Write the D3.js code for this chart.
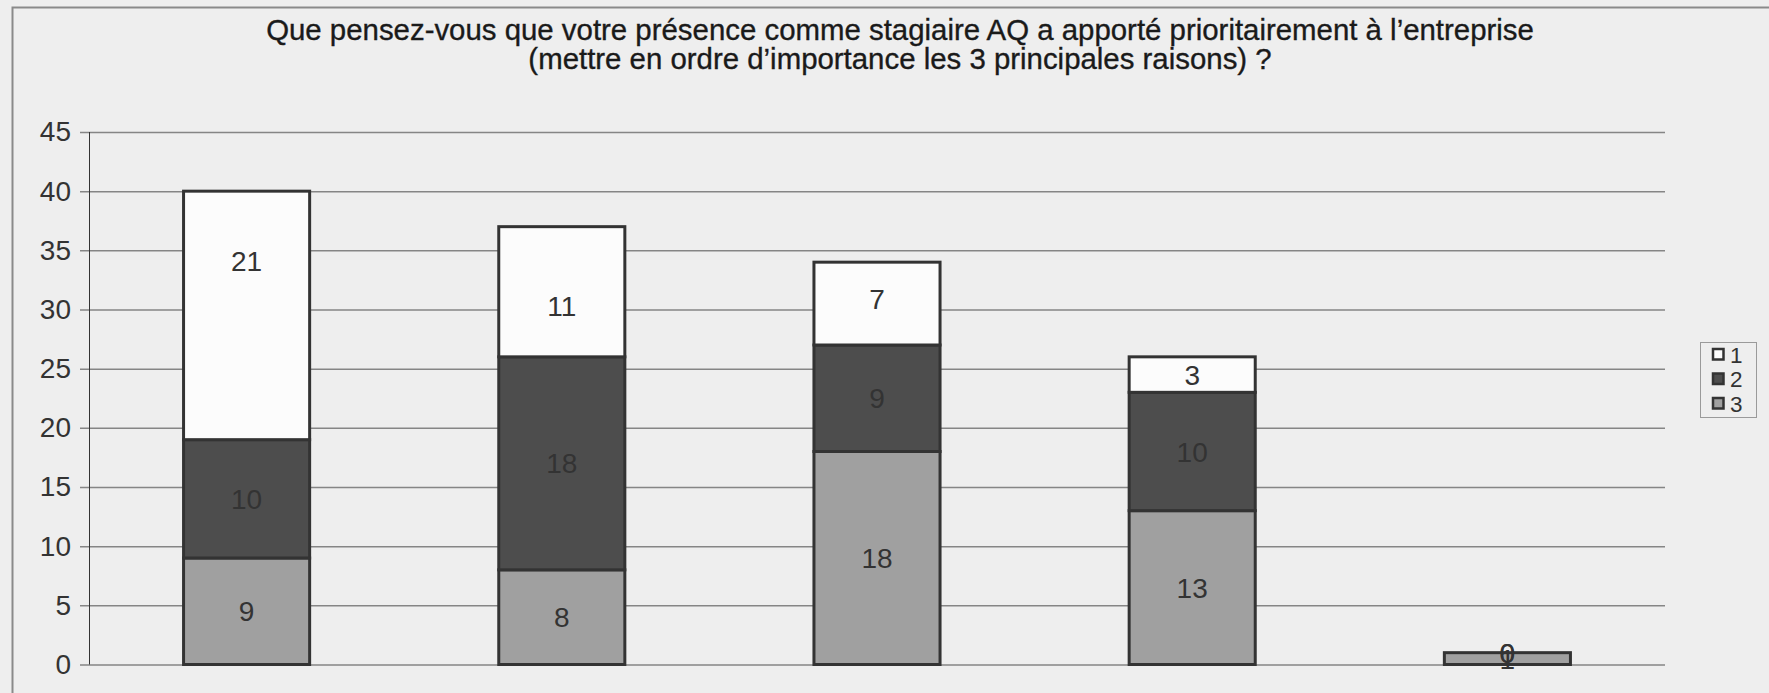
<!DOCTYPE html>
<html>
<head>
<meta charset="utf-8">
<script src="https://cdn.jsdelivr.net/npm/d3@7"></script>
<style>
  html, body { margin: 0; padding: 0; background: #eeeeee; }
  svg { display: block; font-family: "Liberation Sans", Arial, sans-serif; }
</style>
</head>
<body>
<svg width="1769" height="693"></svg>
<script>
// chart data
var categories = ["c1", "c2", "c3", "c4", "c5"];
var seriesNames = ["1", "2", "3"];
var serie1 = [21, 11, 7, 3, 0];
var serie2 = [10, 18, 9, 10, 0];
var serie3 = [9, 8, 18, 13, 1];
var yTicks = [0, 5, 10, 15, 20, 25, 30, 35, 40, 45];
var titleLines = [
  "Que pensez-vous que votre présence comme stagiaire AQ a apporté prioritairement à l’entreprise",
  "(mettre en ordre d’importance les 3 principales raisons) ?"
];

var colors = { "1": "#fcfcfc", "2": "#4d4d4d", "3": "#a0a0a0" };
// label nudges (in value units) for serie 1, as placed in the original
var labelShift = { "1": [4.6, -1.2, 0.4, 0, 0], "2": [0, 0, 0, 0, 0], "3": [0, 0, 0, 0, 0] };

var svg = d3.select("svg"),
    width = +svg.attr("width"),
    height = +svg.attr("height");

var plot = { left: 89, right: 1665, top: 132, bottom: 664.5 };

// frame
svg.append("rect")
    .attr("x", 0).attr("y", 0).attr("width", width).attr("height", height)
    .attr("fill", "#eeeeee");
svg.append("path")
    .attr("d", "M12.5," + height + "V7.5H" + width)
    .attr("fill", "none")
    .attr("stroke", "#8a8a8a")
    .attr("stroke-width", 2);

// title
svg.append("text")
    .attr("text-anchor", "middle")
    .attr("font-size", 29.4)
    .attr("fill", "#1a1a1a")
    .attr("stroke", "#1a1a1a")
    .attr("stroke-width", 0.35)
  .selectAll("tspan")
  .data(titleLines)
  .enter().append("tspan")
    .attr("x", 900)
    .attr("y", function(d, i) { return 40 + i * 29; })
    .text(function(d) { return d; });

var table = categories.map(function(c, i) {
  return { cat: c, idx: i, "1": serie1[i], "2": serie2[i], "3": serie3[i] };
});

var stack = d3.stack().keys(["3", "2", "1"]);
var layers = stack(table);

var x = d3.scaleBand()
    .domain(categories)
    .range([plot.left, plot.right])
    .paddingInner(0.6)
    .paddingOuter(0.3);

var y = d3.scaleLinear()
    .domain([0, 45])
    .range([plot.bottom, plot.top]);

// gridlines
var yAxis = d3.axisLeft(y)
    .tickValues(yTicks)
    .tickSize(-(plot.right - plot.left))
    .tickPadding(18)
    .tickFormat(d3.format("d"));

var gy = svg.append("g")
    .attr("transform", "translate(" + plot.left + ",0)")
    .call(yAxis);
gy.select(".domain").remove();
gy.selectAll(".tick line")
    .attr("x1", -9)
    .attr("stroke", "#858585")
    .attr("stroke-width", 1.5);
gy.selectAll(".tick text")
    .attr("font-size", 28)
    .attr("font-family", "Liberation Sans, Arial, sans-serif")
    .attr("fill", "#333333");

svg.append("line")
    .attr("x1", plot.left + 0.5).attr("x2", plot.left + 0.5)
    .attr("y1", plot.top).attr("y2", plot.bottom)
    .attr("stroke", "#333333")
    .attr("stroke-width", 1);

// bars
var layer = svg.append("g").attr("class", "bars")
  .selectAll("g")
  .data(layers)
  .enter().append("g")
    .attr("fill", function(d) { return colors[d.key]; });

layer.selectAll("rect")
  .data(function(d) { return d.filter(function(p) { return p[1] - p[0] > 0; }); })
  .enter().append("rect")
    .attr("x", function(d) { return x(d.data.cat); })
    .attr("y", function(d) { return y(d[1]); })
    .attr("width", x.bandwidth())
    .attr("height", function(d) { return y(d[0]) - y(d[1]); })
    .attr("stroke", "#333333")
    .attr("stroke-width", 3);

// value labels
var labels = svg.append("g").attr("class", "labels");
layers.forEach(function(l) {
  labels.selectAll(null)
    .data(l)
    .enter().append("text")
      .attr("x", function(d) { return x(d.data.cat) + x.bandwidth() / 2; })
      .attr("y", function(d) { return y((d[0] + d[1]) / 2 + labelShift[l.key][d.data.idx]); })
      .attr("dy", "0.36em")
      .attr("text-anchor", "middle")
      .attr("font-size", 28)
      .attr("fill", "#333333")
      .text(function(d) { return d.data[l.key]; });
});

// legend
var legend = svg.append("g").attr("transform", "translate(1700,342)");
legend.append("rect")
    .attr("x", 0.5).attr("y", 0.5)
    .attr("width", 56).attr("height", 75)
    .attr("fill", "#eeeeee")
    .attr("stroke", "#9a9a9a")
    .attr("stroke-width", 1);

var item = legend.selectAll("g.item")
  .data(seriesNames)
  .enter().append("g")
    .attr("class", "item")
    .attr("transform", function(d, i) { return "translate(0," + (12.5 + i * 24.5) + ")"; });

item.append("rect")
    .attr("x", 13).attr("y", -5.5)
    .attr("width", 10.5).attr("height", 10.5)
    .attr("fill", function(d) { return colors[d]; })
    .attr("stroke", "#333333")
    .attr("stroke-width", 2.5);

item.append("text")
    .attr("x", 30)
    .attr("y", 0)
    .attr("dy", "0.36em")
    .attr("font-size", 22.5)
    .attr("fill", "#333333")
    .text(function(d) { return d; });
</script>
</body>
</html>
